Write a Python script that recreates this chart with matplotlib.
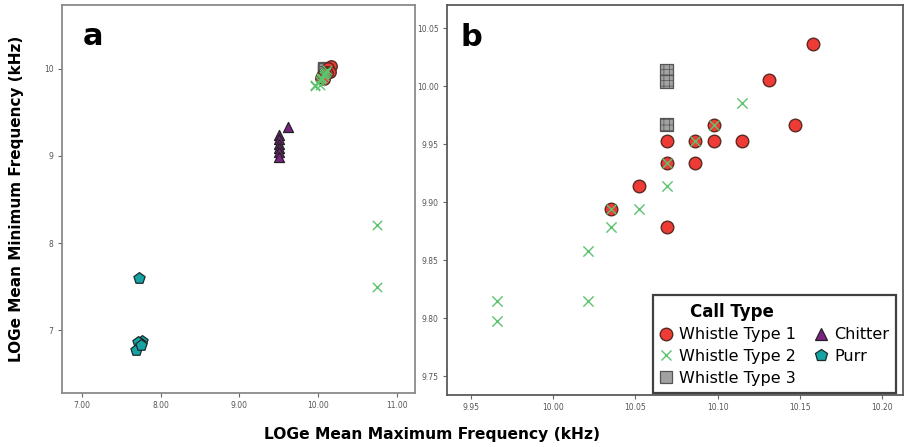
import matplotlib
matplotlib.use("Agg")
import matplotlib.pyplot as plt
from matplotlib.lines import Line2D

# ---- data (LOGe mean max freq, LOGe mean min freq) ----
w1_x = [10.158, 10.131, 10.147, 10.098, 10.069, 10.086, 10.098, 10.115, 10.069, 10.086, 10.052, 10.035, 10.069]
w1_y = [10.036, 10.005, 9.967, 9.967, 9.953, 9.953, 9.953, 9.953, 9.934, 9.934, 9.914, 9.894, 9.879]

w2_x = [10.115, 10.098, 10.086, 10.069, 10.035, 10.069, 10.052, 10.035, 10.021, 10.021, 9.966, 9.966, 10.75, 10.75]
w2_y = [9.986, 9.967, 9.953, 9.934, 9.894, 9.914, 9.894, 9.879, 9.858, 9.815, 9.815, 9.798, 8.21, 7.50]

w3_x = [10.069, 10.069, 10.069]
w3_y = [10.014, 10.004, 9.967]

ch_x = [9.50, 9.50, 9.50, 9.50, 9.50, 9.50, 9.62]
ch_y = [9.24, 9.19, 9.14, 9.09, 9.04, 8.99, 9.33]

pu_x = [7.73, 7.76, 7.74, 7.71, 7.68, 7.75]
pu_y = [7.60, 6.88, 6.85, 6.87, 6.77, 6.83]

a_xticks = [7.0, 8.0, 9.0, 10.0, 11.0]
a_yticks = [7, 8, 9, 10]
b_xticks = [9.95, 10.00, 10.05, 10.10, 10.15, 10.20]
b_yticks = [9.75, 9.80, 9.85, 9.90, 9.95, 10.00, 10.05]

RED = "#ee3b35"
GREEN = "#5cc36e"
GREY = "#a2a2a2"
PURPLE = "#7a2382"
TEAL = "#15a3a3"

plt.rcParams["hatch.color"] = "#777777"
plt.rcParams["hatch.linewidth"] = 0.5

fig = plt.figure(figsize=(9.05, 4.47), dpi=100)
axa = fig.add_axes([0.0685, 0.1208, 0.390, 0.868])
axb = fig.add_axes([0.4939, 0.1163, 0.5039, 0.8725])


def draw(ax, s):
    ax.scatter(w3_x, w3_y, s=s, marker="s", facecolor=GREY, edgecolor="#555555",
               linewidth=0.9, hatch="+++", zorder=3)
    ax.scatter(w1_x, w1_y, s=s * 1.05, marker="o", facecolor=RED, edgecolor="#5a2a22",
               linewidth=1.0, zorder=4)
    ax.scatter(w2_x, w2_y, s=s * 0.7, marker="x", color=GREEN, linewidth=1.0, zorder=5)
    ax.scatter(ch_x, ch_y, s=s * 0.8, marker="^", facecolor=PURPLE, edgecolor="#222222",
               linewidth=0.9, zorder=4)
    ax.scatter(pu_x, pu_y, s=s * 1.1, marker="p", facecolor=TEAL, edgecolor="#1c2a2a",
               linewidth=0.9, zorder=4)


draw(axa, 65)
draw(axb, 78)

axa.set_xlim(6.746, 11.23)
axa.set_ylim(6.28, 10.73)
axa.set_xticks(a_xticks)
axa.set_xticklabels([f"{v:.2f}" for v in a_xticks])
axa.set_yticks(a_yticks)
axa.set_yticklabels([str(v) for v in a_yticks])

axb.set_xlim(9.9356, 10.2126)
axb.set_ylim(9.734, 10.070)
axb.set_xticks(b_xticks)
axb.set_xticklabels([f"{v:.2f}" for v in b_xticks])
axb.set_yticks(b_yticks)
axb.set_yticklabels([f"{v:.2f}" for v in b_yticks])

for ax, sc in ((axa, "#8a8a8a"), (axb, "#5a5a5a")):
    for sp in ax.spines.values():
        sp.set_color(sc)
        sp.set_linewidth(1.3)
    ax.tick_params(direction="out", length=3, width=0.8, color="#666666",
                   labelsize=5.5, labelcolor="#555555", pad=3)

axa.text(0.06, 0.955, "a", transform=axa.transAxes, fontsize=22, fontweight="bold",
         va="top", ha="left")
axb.text(0.03, 0.955, "b", transform=axb.transAxes, fontsize=22, fontweight="bold",
         va="top", ha="left")

fig.text(0.018, 0.555, "LOGe Mean Minimum Frequency (kHz)", rotation=90, fontsize=11,
         fontweight="bold", ha="center", va="center")
fig.text(0.477, 0.027, "LOGe Mean Maximum Frequency (kHz)", fontsize=11.2,
         fontweight="bold", ha="center", va="center")

handles = [
    Line2D([], [], linestyle="none", marker="o", markersize=9, markerfacecolor=RED,
           markeredgecolor="#5a2a22", markeredgewidth=1.0),
    Line2D([], [], linestyle="none", marker="x", markersize=7, color=GREEN, markeredgewidth=1.0),
    Line2D([], [], linestyle="none", marker="s", markersize=8, markerfacecolor=GREY,
           markeredgecolor="#555555", markeredgewidth=0.9),
    Line2D([], [], linestyle="none", marker="^", markersize=8, markerfacecolor=PURPLE,
           markeredgecolor="#222222", markeredgewidth=0.9),
    Line2D([], [], linestyle="none", marker="p", markersize=9, markerfacecolor=TEAL,
           markeredgecolor="#1c2a2a", markeredgewidth=0.9),
]
labels = ["Whistle Type 1", "Whistle Type 2", "Whistle Type 3", "Chitter", "Purr"]
leg = axb.legend(handles, labels, ncol=2, title="Call Type", loc="lower right",
                 bbox_to_anchor=(1.003, -0.015), fontsize=11.5, frameon=True, fancybox=False,
                 handlelength=0.8, handletextpad=0.4, columnspacing=1.2, labelspacing=0.42,
                 borderpad=0.45, alignment="left",
                 title_fontproperties={"weight": "bold", "size": 12})
leg.get_frame().set_edgecolor("#111111")
leg.get_frame().set_linewidth(1.6)
leg.get_title().set_position((30, 0))

fig.savefig("out.png", dpi=100)
